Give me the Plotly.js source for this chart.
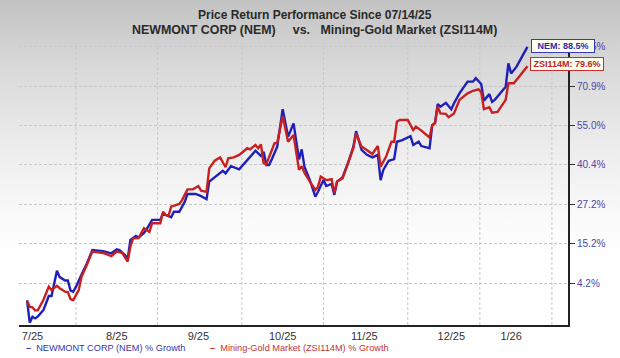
<!DOCTYPE html>
<html>
<head>
<meta charset="utf-8">
<script src="https://cdn.plot.ly/plotly-3.0.1.min.js"></script>
<style>
  html, body { margin: 0; padding: 0; }
  #chart { width: 620px; height: 358px;
    background: linear-gradient(to bottom, #c2c2c2 0px, #d7d7d7 60px, #ebebeb 140px, #fafafa 220px, #ffffff 260px); }
</style>
</head>
<body>
<div id="chart"></div>
<script>
// ---- data (percent growth since 07/14/25) ----
const nemDates = ['2025-07-14','2025-07-15','2025-07-16','2025-07-17','2025-07-18','2025-07-20','2025-07-21','2025-07-22','2025-07-23','2025-07-25',
  '2025-07-26','2025-07-28','2025-07-29','2025-07-30','2025-07-31','2025-08-01','2025-08-03','2025-08-05','2025-08-07','2025-08-09',
  '2025-08-11','2025-08-14','2025-08-16','2025-08-17','2025-08-19','2025-08-20','2025-08-21','2025-08-23','2025-08-24','2025-08-26',
  '2025-08-27','2025-08-29','2025-09-01','2025-09-02','2025-09-03','2025-09-05','2025-09-06','2025-09-08','2025-09-10','2025-09-11',
  '2025-09-14','2025-09-16','2025-09-18','2025-09-19','2025-09-22','2025-09-24','2025-09-25','2025-09-27','2025-09-30','2025-10-02',
  '2025-10-04','2025-10-05','2025-10-06','2025-10-08','2025-10-09','2025-10-10','2025-10-11','2025-10-12','2025-10-14','2025-10-16',
  '2025-10-18','2025-10-20','2025-10-22','2025-10-23','2025-10-24','2025-10-26','2025-10-28','2025-10-29','2025-10-31','2025-11-01',
  '2025-11-03','2025-11-04','2025-11-05','2025-11-07','2025-11-09','2025-11-11','2025-11-12','2025-11-14','2025-11-16','2025-11-18',
  '2025-11-20','2025-11-21','2025-11-22','2025-11-24','2025-11-26','2025-11-27','2025-11-29','2025-12-02','2025-12-03','2025-12-05',
  '2025-12-06','2025-12-09','2025-12-10','2025-12-11','2025-12-12','2025-12-13','2025-12-15','2025-12-17','2025-12-18','2025-12-20',
  '2025-12-23','2025-12-25','2025-12-26','2025-12-28','2025-12-29','2025-12-31','2026-01-01','2026-01-02','2026-01-06','2026-01-07',
  '2026-01-08','2026-01-10','2026-01-14'];
const nemPct = [0.0,-5.4,-4.0,-4.4,-3.9,-2.4,-0.7,1.1,1.1,7.7,
  6.0,5.1,5.1,2.5,2.2,3.5,6.6,9.7,13.4,13.2,
  13.1,12.5,13.6,13.4,12.0,10.9,16.3,17.5,17.0,18.4,
  19.5,22.3,22.3,24.3,23.8,23.1,24.8,24.8,28.0,30.5,
  30.5,29.8,28.8,34.6,36.8,38.3,37.4,39.9,38.8,40.9,
  43.2,44.2,45.4,43.5,45.0,40.3,40.3,42.3,46.9,61.3,
  50.6,55.7,42.3,45.9,39.7,35.1,29.6,31.2,35.1,33.1,
  33.8,30.2,34.6,36.0,40.9,46.9,52.7,45.7,43.9,43.0,
  43.9,35.1,38.6,41.8,42.4,48.7,49.3,50.8,47.5,48.7,
  47.1,46.3,55.0,55.8,63.4,62.3,63.9,61.3,63.7,67.8,
  72.8,72.8,74.3,71.8,64.8,67.5,64.3,65.1,70.6,80.9,
  76.4,79.4,88.5];

const zsiDates = ['2025-07-14','2025-07-15','2025-07-16','2025-07-17','2025-07-18','2025-07-20','2025-07-22','2025-07-23','2025-07-25','2025-07-26',
  '2025-07-28','2025-07-29','2025-07-30','2025-07-31','2025-08-02','2025-08-03','2025-08-05','2025-08-07','2025-08-09','2025-08-11',
  '2025-08-14','2025-08-16','2025-08-18','2025-08-20','2025-08-21','2025-08-22','2025-08-24','2025-08-26','2025-08-28','2025-08-29',
  '2025-09-01','2025-09-02','2025-09-03','2025-09-04','2025-09-05','2025-09-08','2025-09-09','2025-09-11','2025-09-13','2025-09-14',
  '2025-09-15','2025-09-16','2025-09-18','2025-09-19','2025-09-21','2025-09-23','2025-09-25','2025-09-26','2025-09-28','2025-09-30',
  '2025-10-02','2025-10-03','2025-10-04','2025-10-06','2025-10-07','2025-10-08','2025-10-09','2025-10-10','2025-10-13','2025-10-14',
  '2025-10-16','2025-10-18','2025-10-20','2025-10-22','2025-10-23','2025-10-24','2025-10-26','2025-10-28','2025-10-29','2025-10-30',
  '2025-11-01','2025-11-03','2025-11-04','2025-11-05','2025-11-07','2025-11-09','2025-11-11','2025-11-12','2025-11-14','2025-11-15',
  '2025-11-18','2025-11-20','2025-11-21','2025-11-23','2025-11-25','2025-11-26','2025-11-27','2025-11-28','2025-12-01','2025-12-03',
  '2025-12-04','2025-12-06','2025-12-09','2025-12-10','2025-12-11','2025-12-12','2025-12-13','2025-12-15','2025-12-16','2025-12-18',
  '2025-12-20','2025-12-23','2025-12-25','2025-12-27','2025-12-28','2025-12-29','2025-12-31','2026-01-01','2026-01-03','2026-01-06',
  '2026-01-07','2026-01-09','2026-01-14'];
const zsiPct = [0.0,-1.6,-1.7,-2.5,-2.4,0.1,3.5,2.6,3.7,3.1,
  2.2,2.1,0.3,0.1,2.6,6.0,9.3,13.0,12.8,12.6,
  11.7,13.0,12.6,10.2,14.4,16.8,16.9,19.8,18.7,21.3,
  21.3,24.8,23.8,23.5,26.4,27.3,28.5,32.0,32.0,32.7,
  33.1,31.6,31.2,39.1,41.8,43.0,39.5,42.7,43.0,43.9,
  45.7,46.3,45.9,47.5,46.3,47.7,40.9,40.6,48.1,48.3,
  58.6,48.7,51.2,38.6,39.9,37.6,34.6,31.8,32.9,36.3,
  35.1,35.4,30.7,34.6,35.7,41.0,46.3,51.9,46.9,46.3,
  44.2,47.1,39.7,43.2,48.7,48.7,56.3,57.0,57.0,53.1,
  54.4,52.9,50.3,55.0,55.7,62.3,59.6,59.4,58.1,59.6,
  65.1,67.8,68.9,69.5,68.4,61.3,62.1,59.9,60.2,65.1,
  72.1,72.1,79.6];

const yTickPct = [4.2, 15.2, 27.2, 40.4, 55.0, 70.9, 88.5];
const xLabels = ['7/25','8/25','9/25','10/25','11/25','12/25','1/26'];
const xLabelDates = ['2025-07-16','2025-08-16','2025-09-15','2025-10-16','2025-11-15','2025-12-17','2026-01-08'];
const gridDates = ['2025-08-01','2025-08-31','2025-10-01','2025-10-31','2025-12-01','2025-12-27 12:00','2026-01-23'];

const seriesNames = ['NEWMONT CORP (NEM) % Growth', 'Mining-Gold Market (ZSI114M) % Growth'];
const tagNames = ['NEM', 'ZSI114M'];

// ---- build ----
const toFactor = p => 1 + p / 100;
const BLUE = '#2020b8', RED = '#c82020';
const FONT = 'Liberation Sans, Arial, sans-serif';

const traces = [
  { x: nemDates, y: nemPct.map(toFactor), type: 'scatter', mode: 'lines',
    line: { color: BLUE, width: 2.4 }, hoverinfo: 'skip' },
  { x: zsiDates, y: zsiPct.map(toFactor), type: 'scatter', mode: 'lines',
    line: { color: RED, width: 2.4 }, hoverinfo: 'skip' }
];

const nemLast = nemPct[nemPct.length - 1], zsiLast = zsiPct[zsiPct.length - 1];
const nemLastDate = nemDates[nemDates.length - 1], zsiLastDate = zsiDates[zsiDates.length - 1];

const shapes = gridDates.map(d => ({
  type: 'line', xref: 'x', yref: 'paper', x0: d, x1: d, y0: 0, y1: 1,
  line: { color: '#c8c8c8', width: 1, dash: '3px,2px' }, layer: 'below'
}));

const annotations = [
  { xref: 'paper', yref: 'paper', x: 0.539, y: 1.099, xanchor: 'center', yanchor: 'middle', showarrow: false,
    text: '<b>Price Return Performance Since 07/14/25</b>', font: { family: FONT, size: 12, color: '#2a2a2a' } },
  { xref: 'paper', yref: 'paper', x: 0.539, y: 1.046, xanchor: 'center', yanchor: 'middle', showarrow: false,
    text: '<b>NEWMONT CORP (NEM)\u00a0\u00a0\u00a0\u00a0 vs.\u00a0\u00a0\u00a0Mining-Gold Market (ZSI114M)</b>', font: { family: FONT, size: 12.4, color: '#2a2a2a' } },
  { xref: 'x', yref: 'y', x: nemLastDate, y: Math.log10(toFactor(nemLast)), xanchor: 'left', yanchor: 'middle',
    xshift: 4, yshift: 1, showarrow: false, text: '<b>' + tagNames[0] + ': ' + nemLast.toFixed(1) + '%</b>',
    width: 60, height: 10, align: 'center', bgcolor: '#fffff2', bordercolor: '#3a3ac0', borderwidth: 1, borderpad: 1,
    font: { family: FONT, size: 9, color: '#2a2aa8' } },
  { xref: 'x', yref: 'y', x: zsiLastDate, y: Math.log10(toFactor(zsiLast)), xanchor: 'left', yanchor: 'middle',
    xshift: 3, yshift: 2, showarrow: false, text: '<b>' + tagNames[1] + ': ' + zsiLast.toFixed(1) + '%</b>',
    width: 70, height: 10, align: 'center', bgcolor: '#fffff2', bordercolor: '#c43030', borderwidth: 1, borderpad: 1,
    font: { family: FONT, size: 9, color: '#b82626' } },
  { xref: 'paper', yref: 'paper', x: 0.010, y: -0.082, xanchor: 'left', yanchor: 'middle', showarrow: false,
    text: '<b>–</b>\u00a0\u00a0' + seriesNames[0], font: { family: FONT, size: 9.2, color: '#3636b0' } },
  { xref: 'paper', yref: 'paper', x: 0.344, y: -0.082, xanchor: 'left', yanchor: 'middle', showarrow: false,
    text: '<b>–</b>\u00a0\u00a0' + seriesNames[1], font: { family: FONT, size: 9.2, color: '#c03434' } }
];

const layout = {
  width: 620, height: 358,
  margin: { l: 19, r: 52, t: 43, b: 33, pad: 0 },
  paper_bgcolor: 'rgba(0,0,0,0)', plot_bgcolor: 'rgba(0,0,0,0)',
  showlegend: false,
  font: { family: FONT },
  xaxis: {
    type: 'date', range: ['2025-07-11 01:00', '2026-01-28 22:00'],
    tickmode: 'array', tickvals: xLabelDates, ticktext: xLabels,
    ticks: '', showgrid: false, zeroline: false,
    showline: true, linecolor: '#222222', linewidth: 2,
    tickfont: { family: FONT, size: 11, color: '#333333' }, fixedrange: true
  },
  yaxis: {
    type: 'log', side: 'right',
    range: [Math.log10(0.9404), Math.log10(1.9033)],
    tickmode: 'array', tickvals: yTickPct.map(toFactor), ticktext: yTickPct.map(v => v.toFixed(1) + '%'),
    ticks: 'outside', ticklen: 5, tickwidth: 1, tickcolor: '#333333',
    showgrid: true, gridcolor: '#c8c8c8', gridwidth: 1, griddash: '3px,2px',
    showline: true, linecolor: '#222222', linewidth: 2,
    tickfont: { family: FONT, size: 10, color: '#4848aa' }, fixedrange: true
  },
  shapes: shapes,
  annotations: annotations
};

Plotly.newPlot('chart', traces, layout, { staticPlot: true, displayModeBar: false });
</script>
</body>
</html>
